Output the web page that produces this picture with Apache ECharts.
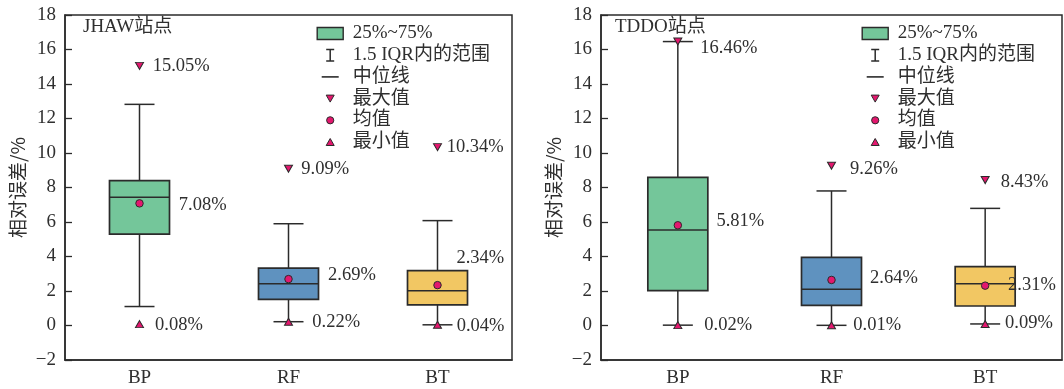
<!DOCTYPE html>
<html>
<head>
<meta charset="utf-8">
<script src="https://cdn.jsdelivr.net/npm/echarts@6/dist/echarts.min.js"></script>
<style>
  html, body { margin: 0; padding: 0; background: #fff; }
  #chart { width: 1064px; height: 389px; }
</style>
</head>
<body>
<div id="chart"></div>
<script>
// ---- data ----
const categories = ['BP', 'RF', 'BT'];
const yTicks = { min: -2, max: 18, step: 2 };

// JHAW station
const jhawWhiskerLow  = [1.10, 0.22, 0.04];
const jhawQ1          = [5.30, 1.52, 1.19];
const jhawMedian      = [7.43, 2.42, 2.02];
const jhawQ3          = [8.40, 3.33, 3.18];
const jhawWhiskerHigh = [12.82, 5.90, 6.08];
const jhawMax  = [15.05, 9.09, 10.34];
const jhawMean = [7.08, 2.69, 2.34];
const jhawMin  = [0.08, 0.22, 0.04];

// TDDO station
const tddoWhiskerLow  = [0.02, 0.01, 0.09];
const tddoQ1          = [2.02, 1.17, 1.13];
const tddoMedian      = [5.54, 2.10, 2.42];
const tddoQ3          = [8.59, 3.95, 3.41];
const tddoWhiskerHigh = [16.46, 7.80, 6.79];
const tddoMax  = [16.46, 9.26, 8.43];
const tddoMean = [5.81, 2.64, 2.31];
const tddoMin  = [0.02, 0.01, 0.09];

// ---- styling ----
const boxColors = ['#74c69a', '#5f92bf', '#f2c763'];
const markerColor = '#e3176e';
const inkColor = '#2b2b2b';
const textColor = '#2f2f2f';
const latinFont = "'Liberation Serif', 'Times New Roman', 'Noto Sans CJK SC', serif";
const cjkFont = "'Noto Sans CJK SC', sans-serif";

// label placement: [gap from marker centre to text start, vertical shift]
const jhawLabelPos = {
  max:  [[12.7, 0], [12.3, 0], [8.7, 0]],
  mean: [[39, 1.6], [39.3, -4], [18.7, -27]],
  min:  [[15, 1], [23.3, 0], [18.7, 1]]
};
const tddoLabelPos = {
  max:  [[22, 7], [18, 3.5], [15, 1.6]],
  mean: [[38.3, -4], [38.3, -2], [22.7, -1]],
  min:  [[26, 0], [21.3, 0], [19.4, -1]]
};

const panels = [
  { title: 'JHAW站点', low: jhawWhiskerLow, q1: jhawQ1, med: jhawMedian, q3: jhawQ3, high: jhawWhiskerHigh,
    max: jhawMax, mean: jhawMean, min: jhawMin, labels: jhawLabelPos,
    grid: { left: 65, top: 15, width: 447, height: 345 }, legendLeft: 316, titleLeft: 83 },
  { title: 'TDDO站点', low: tddoWhiskerLow, q1: tddoQ1, med: tddoMedian, q3: tddoQ3, high: tddoWhiskerHigh,
    max: tddoMax, mean: tddoMean, min: tddoMin, labels: tddoLabelPos,
    grid: { left: 601, top: 15, width: 461, height: 345 }, legendLeft: 861, titleLeft: 615 }
];

// legend icons drawn in a 31x13 frame (the two bare moveTo points fix the frame size)
const FRAME = 'path://M0,0M31,13';
const legendIcons = {
  box:  FRAME + 'M0.5,0.5H26.5V12.5H0.5Z',
  iqr:  FRAME + 'M9.5,0H17.5V1.5H14.25V11.5H17.5V13H9.5V11.5H12.75V1.5H9.5Z',
  med:  FRAME + 'M5,5.7H22V7.3H5Z',
  max:  FRAME + 'M9.5,3H17.5L13.5,10Z',
  mean: FRAME + 'M9.9,6.5A3.6,3.6,0,1,1,17.1,6.5A3.6,3.6,0,1,1,9.9,6.5Z',
  min:  FRAME + 'M9.5,10H17.5L13.5,3Z'
};

const NAME_BOX = '25%~75%';
const NAME_IQR = '1.5 IQR内的范围';
const NAME_MED = '中位线';
const NAME_MAX = '最大值';
const NAME_MEAN = '均值';
const NAME_MIN = '最小值';

function boxRenderItem(params, api) {
  const c = api.value(0);
  const pLow = api.coord([c, api.value(1)]);
  const pQ1 = api.coord([c, api.value(2)]);
  const pMed = api.coord([c, api.value(3)]);
  const pQ3 = api.coord([c, api.value(4)]);
  const pHigh = api.coord([c, api.value(5)]);
  const x = pMed[0];
  const half = 30, cap = 15;
  const lineStyle = { stroke: inkColor, lineWidth: 1.5, fill: null };
  return {
    type: 'group',
    children: [
      { type: 'line', shape: { x1: x, y1: pHigh[1], x2: x, y2: pQ3[1] }, style: lineStyle },
      { type: 'line', shape: { x1: x, y1: pQ1[1], x2: x, y2: pLow[1] }, style: lineStyle },
      { type: 'line', shape: { x1: x - cap, y1: pHigh[1], x2: x + cap, y2: pHigh[1] }, style: lineStyle },
      { type: 'line', shape: { x1: x - cap, y1: pLow[1], x2: x + cap, y2: pLow[1] }, style: lineStyle },
      { type: 'rect', shape: { x: x - half, y: pQ3[1], width: half * 2, height: pQ1[1] - pQ3[1] },
        style: { fill: boxColors[params.dataIndex], stroke: inkColor, lineWidth: 1.7 } },
      { type: 'line', shape: { x1: x - half, y1: pMed[1], x2: x + half, y2: pMed[1] }, style: lineStyle }
    ]
  };
}

function markerSeries(name, values, pos, symbol, size, rotate, gi) {
  return {
    name: name,
    type: 'scatter',
    xAxisIndex: gi, yAxisIndex: gi,
    symbol: symbol,
    symbolSize: size,
    symbolRotate: rotate,
    itemStyle: { color: markerColor, borderColor: inkColor, borderWidth: 1, opacity: 1 },
    z: 5,
    label: {
      show: true, position: 'right', color: textColor, fontFamily: latinFont, fontSize: 18.5,
      formatter: p => p.value[1].toFixed(2) + '%'
    },
    data: values.map((v, i) => ({
      value: [categories[i], v],
      label: { distance: pos[i][0] - 4, offset: [0, pos[i][1]] }
    }))
  };
}

// legend-only entries (no data); they come first so the legend picks them up by name
function legendKeySeries(name) {
  return { name: name, type: 'custom', renderItem: () => null, data: [], xAxisIndex: 0, yAxisIndex: 0 };
}

const option = {
  animation: false,
  backgroundColor: '#fff',
  title: [],
  legend: [],
  grid: [],
  xAxis: [],
  yAxis: [],
  series: [NAME_IQR, NAME_MED, NAME_MAX, NAME_MEAN, NAME_MIN].map(legendKeySeries)
};

panels.forEach((p, gi) => {
  option.grid.push(Object.assign({ show: true, borderColor: inkColor, borderWidth: 1.5, containLabel: false }, p.grid));
  option.title.push({
    text: p.title, left: p.titleLeft, top: 18, padding: 0,
    textStyle: { fontFamily: latinFont, fontSize: 19, fontWeight: 'normal', color: textColor }
  });
  option.xAxis.push({
    type: 'category', gridIndex: gi, data: categories, boundaryGap: true,
    axisLine: { onZero: false, lineStyle: { color: inkColor, width: 1.5 } },
    axisTick: { inside: true, alignWithLabel: true, length: 7, lineStyle: { color: inkColor, width: 1.3 } },
    axisLabel: { margin: 9, color: textColor, fontFamily: latinFont, fontSize: 19 },
    splitLine: { show: false }
  });
  option.yAxis.push({
    type: 'value', gridIndex: gi, min: yTicks.min, max: yTicks.max, interval: yTicks.step,
    name: '相对误差/%', nameLocation: 'middle', nameGap: 38,
    nameTextStyle: { fontFamily: cjkFont, fontSize: 19, color: textColor },
    axisLine: { show: true, onZero: false, lineStyle: { color: inkColor, width: 1.5 } },
    axisTick: { show: true, inside: true, length: 7, lineStyle: { color: inkColor, width: 1.3 } },
    axisLabel: { margin: 9, color: textColor, fontFamily: latinFont, fontSize: 19,
      formatter: v => String(v).replace('-', '\u2212') },
    splitLine: { show: false }
  });
  option.series.push({
    name: NAME_BOX, type: 'custom', xAxisIndex: gi, yAxisIndex: gi,
    itemStyle: { color: boxColors[0] },
    renderItem: boxRenderItem,
    encode: { x: 0, y: [1, 2, 3, 4, 5] },
    data: categories.map((c, i) => [i, p.low[i], p.q1[i], p.med[i], p.q3[i], p.high[i]]),
    z: 2
  });
  option.series.push(markerSeries(NAME_MAX, p.max, p.labels.max, 'triangle', [8, 7], 180, gi));
  option.series.push(markerSeries(NAME_MEAN, p.mean, p.labels.mean, 'circle', 7.5, 0, gi));
  option.series.push(markerSeries(NAME_MIN, p.min, p.labels.min, 'triangle', [8, 7], 0, gi));

  const markerLegendStyle = { color: markerColor, borderColor: inkColor, borderWidth: 1 };
  const inkLegendStyle = { color: inkColor, borderWidth: 0 };
  option.legend.push({
    orient: 'vertical', left: p.legendLeft, top: 24, padding: 0,
    itemWidth: 31, itemHeight: 13, itemGap: 2.7, selectedMode: false,
    textStyle: { fontFamily: latinFont, fontSize: 19, lineHeight: 19, color: textColor },
    data: [
      { name: NAME_BOX, icon: legendIcons.box, itemStyle: { color: boxColors[0], borderColor: inkColor, borderWidth: 1.4 } },
      { name: NAME_IQR, icon: legendIcons.iqr, itemStyle: inkLegendStyle },
      { name: NAME_MED, icon: legendIcons.med, itemStyle: inkLegendStyle },
      { name: NAME_MAX, icon: legendIcons.max, itemStyle: markerLegendStyle },
      { name: NAME_MEAN, icon: legendIcons.mean, itemStyle: markerLegendStyle },
      { name: NAME_MIN, icon: legendIcons.min, itemStyle: markerLegendStyle }
    ]
  });
});

const chart = echarts.init(document.getElementById('chart'), null, { renderer: 'canvas' });
chart.setOption(option);
</script>
</body>
</html>
